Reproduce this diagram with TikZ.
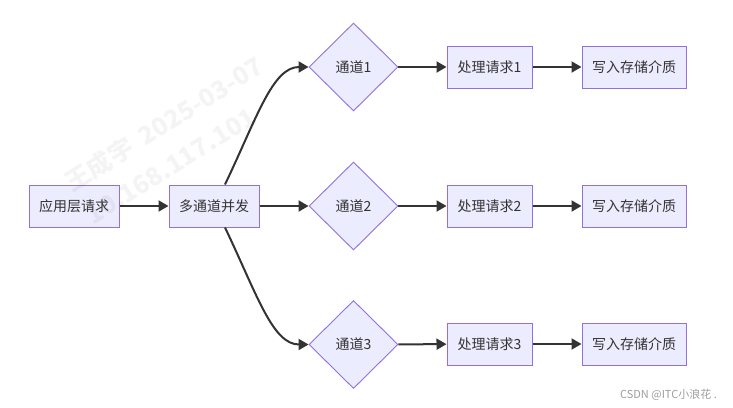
\documentclass[tikz,border=0pt]{standalone}
\usepackage{fontspec}
\setmainfont{Noto Sans CJK SC}
\usetikzlibrary{shapes.geometric,arrows.meta}
\definecolor{nodefill}{HTML}{ECECFF}
\definecolor{nodeline}{HTML}{9370DB}
\definecolor{edgecol}{HTML}{333333}
\definecolor{txt}{HTML}{333333}
\begin{document}
\begin{tikzpicture}[x=1pt,y=-1pt,
  box/.style={draw=nodeline,fill=nodefill,line width=1pt,minimum height=42pt,inner sep=0pt,text=txt,font=\fontsize{14pt}{16pt}\selectfont},
  dia/.style={diamond,draw=nodeline,fill=nodefill,line width=0.9pt,minimum width=89pt,minimum height=88pt,inner sep=0pt,text=txt,font=\fontsize{14pt}{16pt}\selectfont},
  edge/.style={draw=edgecol,line width=2pt,-{Triangle[length=10pt,width=11pt]}},
  wm/.style={text=black,opacity=0.045,font=\bfseries\fontsize{25pt}{28pt}\selectfont,rotate=32,inner sep=0pt}]
\useasboundingbox (0,0) rectangle (733,407);
\fill[white] (0,0) rectangle (733,407);
% nodes
\node[box,minimum width=90pt] (A) at (74,206) {应用层请求};
\node[box,minimum width=90pt] (B) at (214,206) {多通道并发};
\node[dia] (C1) at (353.5,67) {通道1};
\node[dia] (C2) at (353.5,206) {通道2};
\node[dia] (C3) at (353.5,344.5) {通道3};
\node[box,minimum width=85pt] (P1) at (489.5,67) {处理请求1};
\node[box,minimum width=85pt] (P2) at (489.5,206) {处理请求2};
\node[box,minimum width=85pt] (P3) at (489.5,344) {处理请求3};
\node[box,minimum width=104pt] (W1) at (634,67) {写入存储介质};
\node[box,minimum width=104pt] (W2) at (634,206) {写入存储介质};
\node[box,minimum width=104pt] (W3) at (634,344) {写入存储介质};
% edges
\draw[edge] (A) -- (B);
\draw[edge] (B) -- (C2);
\draw[edge] ([xshift=11pt]B.north) .. controls +(32,-67) and +(-36,0) .. (C1.west);
\draw[edge] ([xshift=11pt]B.south) .. controls +(32,67) and +(-36,0) .. (C3.west);
\draw[edge] (C1) -- (P1);
\draw[edge] (C2) -- (P2);
\draw[edge] (C3) -- (P3);
\draw[edge] (P1) -- (W1);
\draw[edge] (P2) -- (W2);
\draw[edge] (P3) -- (W3);
% watermark
\node[wm] (wm1) at (164,124) {王成宇\ \ 2025-03-07};
\node[wm] (wm2) at (171,166) {10.168.117.101};
% credit
\node[text=black!38,font=\fontsize{11pt}{13pt}\selectfont,inner sep=0pt,anchor=east] (credit) at (717,395) {CSDN @ITC小浪花 .};
\end{tikzpicture}
\end{document}
